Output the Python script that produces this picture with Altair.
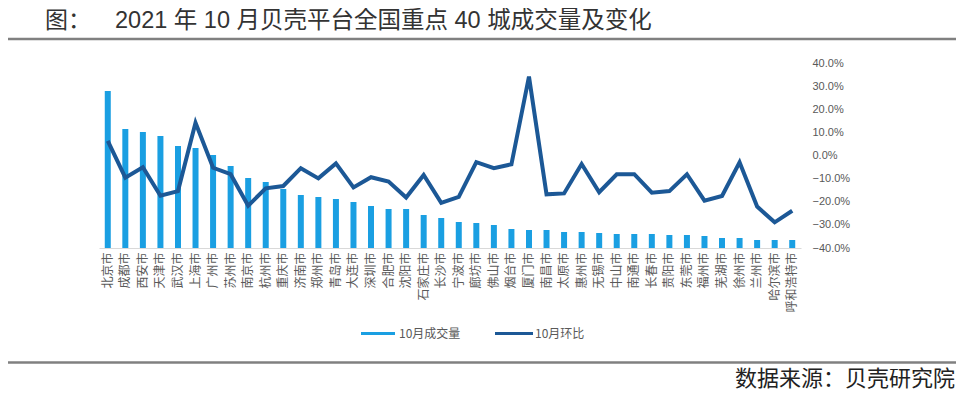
import altair as alt
import pandas as pd

cities = ["北京市", "成都市", "西安市", "天津市", "武汉市", "上海市", "广州市", "苏州市", "南京市", "杭州市",
          "重庆市", "济南市", "郑州市", "青岛市", "大连市", "深圳市", "合肥市", "沈阳市", "石家庄市", "长沙市",
          "宁波市", "廊坊市", "佛山市", "烟台市", "厦门市", "南昌市", "太原市", "惠州市", "无锡市", "中山市",
          "南通市", "长春市", "贵阳市", "东莞市", "福州市", "芜湖市", "徐州市", "兰州市", "哈尔滨市", "呼和浩特市"]

# 10月成交量 (relative; no value axis in the original)
volume = [157, 119, 116, 112, 102, 100, 93, 82, 70, 66,
          59, 53, 51, 49, 46, 42, 39, 39, 33, 30,
          26, 25, 23, 19, 18, 18, 16, 16, 15, 14,
          14, 14, 13, 13, 12, 10, 10, 8, 8, 8]

# 10月环比 (%)
mom_pct = [6.3, -9.6, -5.1, -17.4, -15.4, 14.2, -5.3, -8.1, -21.7, -14.2,
           -13.2, -5.5, -9.9, -3.4, -13.8, -9.4, -11.3, -18.2, -8.4, -20.5,
           -17.9, -2.9, -5.5, -3.8, 34.1, -16.8, -16.4, -3.7, -15.9, -8.1,
           -8.1, -16.1, -15.4, -8.1, -19.5, -17.5, -2.9, -22.1, -28.9, -23.9]

right_ticks = [0.4, 0.3, 0.2, 0.1, 0.0, -0.1, -0.2, -0.3, -0.4]

title_prefix = "图："
title_text = "2021 年 10 月贝壳平台全国重点 40 城成交量及变化"
source_text = "数据来源：贝壳研究院"
legend_labels = ["10月成交量", "10月环比"]

BAR_COLOR = "#1a9fe2"
LINE_COLOR = "#1c5896"
GRAY = "#595959"
FONT = "Noto Sans CJK SC"
TITLE_FONT = "Liberation Sans, Noto Sans CJK SC"

df = pd.DataFrame({"city": cities, "vol": volume, "mom": [v / 100 for v in mom_pct]})

W, H = 702, 185

xenc = alt.X("city:N", sort=cities, title=None,
             scale=alt.Scale(paddingInner=0, paddingOuter=0),
             axis=alt.Axis(labelAngle=-90, labelFontSize=12, labelColor=GRAY, labelFont=FONT,
                           ticks=False, domainColor="#d9d9d9", domainWidth=1, labelPadding=4,
                           grid=False))

bars = alt.Chart(df).mark_bar(size=6, color=BAR_COLOR).encode(
    x=xenc,
    y=alt.Y("vol:Q", scale=alt.Scale(domain=[0, 185]), axis=None),
)

line = alt.Chart(df).mark_line(color=LINE_COLOR, strokeWidth=4, strokeJoin="miter").encode(
    x=alt.X("city:N", sort=cities),
    y=alt.Y("mom:Q", scale=alt.Scale(domain=[-0.4, 0.4]),
            axis=alt.Axis(orient="right", values=right_ticks, format=".1%", title=None,
                          ticks=False, domain=False, grid=False, labelPadding=11,
                          labelFontSize=11, labelColor=GRAY, labelFont="Liberation Sans")),
)

one = pd.DataFrame({"a": [0]})


def txt(text, x, y, size, color="#222222", align="left", font=FONT):
    return alt.Chart(one).mark_text(align=align, baseline="middle", fontSize=size, font=font,
                                    color=color).encode(
        x=alt.value(x), y=alt.value(y), text=alt.value(text))


def hrule(x1, x2, y, color, width):
    return alt.Chart(one).mark_rule(color=color, strokeWidth=width).encode(
        x=alt.value(x1), x2=alt.value(x2), y=alt.value(y))


decor = [
    txt(title_prefix, -54, -42.5, 23, color="#333333", font=TITLE_FONT),
    txt(title_text, 16, -42.5, 23.5, color="#333333", font=TITLE_FONT),
    hrule(-120, 880, -24, "#808080", 2.5),
    hrule(-120, 880, 299.5, "#808080", 2.5),
    txt(source_text, 856, 315.5, 22, align="right"),
    hrule(262, 296, 270.5, BAR_COLOR, 3),
    txt(legend_labels[0], 300, 271, 12, color=GRAY),
    hrule(396, 434, 270.5, LINE_COLOR, 3),
    txt(legend_labels[1], 436, 271, 12, color=GRAY),
]

chart = alt.layer(bars, line, *decor).resolve_scale(y="independent").properties(
    width=W, height=H,
    padding={"left": 91, "top": 55, "right": 155, "bottom": 142},
    autosize=alt.AutoSizeParams(type="none"),
    background="white",
).configure_view(stroke=None)

chart.save("out.html", embed_options={"renderer": "svg", "actions": False})
